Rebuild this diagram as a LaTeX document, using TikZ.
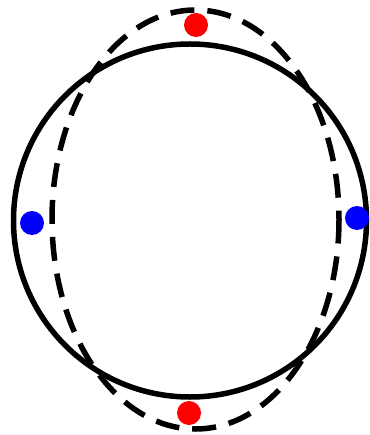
\documentclass[tikz,border=0pt]{standalone}
\begin{document}
\begin{tikzpicture}[x=1pt,y=-1pt,
  solidring/.style={line width=5.5pt},
  dashring/.style={line width=5.5pt, dash pattern=on 24pt off 13pt},
  reddot/.style={circle, fill=red, inner sep=0pt, minimum size=24pt},
  bluedot/.style={circle, fill=blue, inner sep=0pt, minimum size=24pt}]
\useasboundingbox (0,0) rectangle (369,435);
\draw[solidring] (190,220.5) circle[radius=176.5];
\draw[dashring] (195.5,219.5) ellipse[x radius=143.5, y radius=209.5];
\node[reddot] (rt) at (196,25) {};
\node[reddot] (rb) at (189,413) {};
\node[bluedot] (bl) at (32,223) {};
\node[bluedot] (br) at (357,218) {};
\end{tikzpicture}
\end{document}
